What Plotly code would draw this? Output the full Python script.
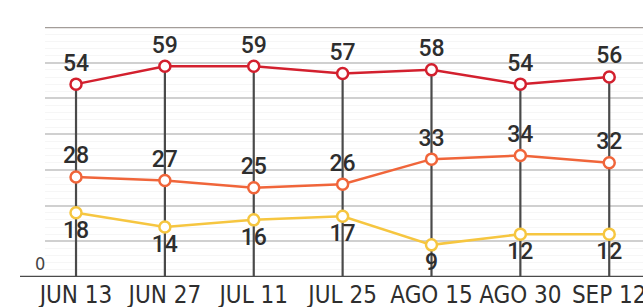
import plotly.graph_objects as go

categories = ["JUN 13", "JUN 27", "JUL 11", "JUL 25", "AGO 15", "AGO 30", "SEP 12"]
red_vals = [54, 59, 59, 57, 58, 54, 56]
orange_vals = [28, 27, 25, 26, 33, 34, 32]
yellow_vals = [18, 14, 16, 17, 9, 12, 12]
grid_vals = [10, 20, 30, 40, 50, 60]
y_top = 70

RED = "#d3202e"
ORANGE = "#f0653a"
YELLOW = "#f6c640"
DARK = "#4a4a4a"
LABEL_FONT = dict(family="Roboto, DejaVu Sans", size=23, color="#2e2e2e", weight=500)

fig = go.Figure()

# drop lines from the top series down to zero
fig.add_trace(go.Scatter(
    x=categories, y=red_vals, mode="markers",
    marker=dict(size=1, color="rgba(0,0,0,0)"),
    error_y=dict(type="data", symmetric=False, array=[0] * len(red_vals),
                 arrayminus=red_vals, color=DARK, thickness=2.2, width=0),
    hoverinfo="skip", showlegend=False,
))

def series(vals, color, pos):
    fig.add_trace(go.Scatter(
        x=categories, y=vals, mode="lines+markers+text",
        line=dict(color=color, width=2.5),
        marker=dict(size=11, color="white", line=dict(color=color, width=2.5)),
        text=[str(v) for v in vals], textposition=pos,
        textfont=LABEL_FONT, showlegend=False, cliponaxis=False,
    ))

series(red_vals, RED, "top center")
series(orange_vals, ORANGE, "top center")
series(yellow_vals, YELLOW, "bottom center")

fig.update_layout(
    width=643, height=307,
    margin=dict(l=45, r=0, t=27, b=30, autoexpand=False),
    paper_bgcolor="white", plot_bgcolor="white",
    xaxis=dict(
        type="category", range=[-0.349, 6.38], showgrid=False, zeroline=False,
        showline=False, ticks="", ticklabelstandoff=1, automargin=False,
        tickfont=dict(family="Liberation Sans Narrow, DejaVu Sans Condensed, Arial Narrow", size=24, color="#2e2e2e"),
    ),
    yaxis=dict(
        range=[0, y_top], tickvals=grid_vals, showticklabels=False, automargin=False,
        showgrid=True, gridcolor="#d0d0d0", gridwidth=2, zeroline=False,
        minor=dict(dtick=2, showgrid=True, gridcolor="#f6f6f6", gridwidth=1),
    ),
    shapes=[
        dict(type="line", xref="paper", yref="y", x0=-25 / 598, x1=1, y0=0, y1=0,
             line=dict(color=DARK, width=2.5), layer="above"),
        dict(type="line", xref="paper", yref="y", x0=0, x1=1, y0=y_top, y1=y_top,
             line=dict(color="#a39d99", width=2.5), layer="above"),
    ],
    annotations=[
        dict(text="0", xref="paper", yref="y", x=-5 / 598, y=0, yanchor="bottom",
             xanchor="center", showarrow=False, yshift=1,
             font=dict(family="Liberation Sans Narrow, DejaVu Sans Condensed", size=18, color="#444")),
    ],
)

fig.write_html("out.html", config={"displayModeBar": False},
               post_script="document.body.style.margin='0';document.body.style.overflow='hidden';")
